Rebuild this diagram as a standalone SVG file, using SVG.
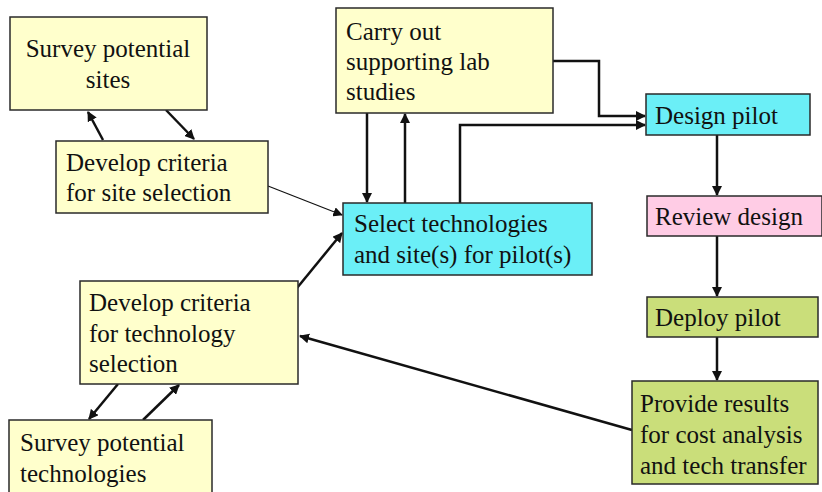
<svg xmlns="http://www.w3.org/2000/svg" width="822" height="492" viewBox="0 0 822 492">
<style>
.b{stroke:#2a2a2a;stroke-width:1.5}
.y{fill:#FFFFCC}
.c{fill:#6BEFF7}
.p{fill:#FFCCE5}
.g{fill:#CADE7A}
.l{fill:none;stroke:#111;stroke-width:2.5}
.t{fill:none;stroke:#111;stroke-width:1.2}
</style>
<defs>
<marker id="a" viewBox="0 0 10 10" refX="9" refY="5" markerWidth="4" markerHeight="4" orient="auto" markerUnits="strokeWidth"><path d="M0,0 L10,5 L0,10 z" fill="#111"/></marker>
<marker id="at" viewBox="0 0 10 10" refX="9" refY="5" markerWidth="8" markerHeight="8" orient="auto" markerUnits="strokeWidth"><path d="M0,0 L10,5 L0,10 z" fill="#111"/></marker>
</defs>
<rect width="822" height="492" fill="#fff"/>
<g id="connectors">
<line class="l" x1="103" y1="140" x2="88" y2="112" marker-end="url(#a)"/>
<line class="l" x1="166" y1="110" x2="194" y2="139" marker-end="url(#a)"/>
<line class="t" x1="268" y1="186" x2="342" y2="215" marker-end="url(#at)"/>
<line class="l" x1="367" y1="113" x2="367" y2="202" marker-end="url(#a)"/>
<line class="l" x1="405" y1="203" x2="405" y2="114" marker-end="url(#a)"/>
<polyline class="l" points="460,203 460,125 645,125" marker-end="url(#a)"/>
<polyline class="l" points="553,61 599,61 599,116 645,116" marker-end="url(#a)"/>
<line class="l" x1="717" y1="135" x2="717" y2="195" marker-end="url(#a)"/>
<line class="l" x1="717" y1="236" x2="717" y2="296" marker-end="url(#a)"/>
<line class="l" x1="717" y1="337" x2="717" y2="380" marker-end="url(#a)"/>
<line class="l" x1="632" y1="430" x2="300" y2="336" marker-end="url(#a)"/>
<line class="l" x1="297" y1="288" x2="342" y2="233" marker-end="url(#a)"/>
<line class="l" x1="118" y1="384" x2="89" y2="419" marker-end="url(#a)"/>
<line class="l" x1="143" y1="420" x2="179" y2="385" marker-end="url(#a)"/>
</g>
<g id="survey-sites">
<rect class="b y" x="10" y="17" width="197" height="93"/>
<text x="108" y="57" text-anchor="middle" font-family="Liberation Serif" font-size="25" fill="#111">Survey potential</text>
<text x="108" y="88" text-anchor="middle" font-family="Liberation Serif" font-size="25" fill="#111">sites</text>
</g>
<g id="criteria-site">
<rect class="b y" x="56" y="141" width="212" height="72"/>
<text x="66" y="171" font-family="Liberation Serif" font-size="25" fill="#111">Develop criteria</text>
<text x="66" y="201" font-family="Liberation Serif" font-size="25" fill="#111">for site selection</text>
</g>
<g id="lab-studies">
<rect class="b y" x="336" y="8" width="217" height="105"/>
<text x="346" y="40" font-family="Liberation Serif" font-size="25" fill="#111">Carry out</text>
<text x="346" y="70" font-family="Liberation Serif" font-size="25" fill="#111">supporting lab</text>
<text x="346" y="100" font-family="Liberation Serif" font-size="25" fill="#111">studies</text>
</g>
<g id="select">
<rect class="b c" x="343" y="203" width="249" height="72"/>
<text x="354" y="232" font-family="Liberation Serif" font-size="25" fill="#111">Select technologies</text>
<text x="354" y="263" font-family="Liberation Serif" font-size="25" fill="#111">and site(s) for pilot(s)</text>
</g>
<g id="design-pilot">
<rect class="b c" x="646" y="94" width="164" height="41"/>
<text x="655" y="124" font-family="Liberation Serif" font-size="25" fill="#111">Design pilot</text>
</g>
<g id="review-design">
<rect class="b p" x="647" y="196" width="175" height="40"/>
<text x="655" y="225" font-family="Liberation Serif" font-size="25" fill="#111">Review design</text>
</g>
<g id="deploy-pilot">
<rect class="b g" x="647" y="297" width="171" height="40"/>
<text x="655" y="326" font-family="Liberation Serif" font-size="25" fill="#111">Deploy pilot</text>
</g>
<g id="provide-results">
<rect class="b g" x="632" y="381" width="186" height="103"/>
<text x="640" y="412" font-family="Liberation Serif" font-size="25" fill="#111">Provide results</text>
<text x="640" y="443" font-family="Liberation Serif" font-size="25" fill="#111">for cost analysis</text>
<text x="640" y="474" font-family="Liberation Serif" font-size="25" fill="#111">and tech transfer</text>
</g>
<g id="criteria-tech">
<rect class="b y" x="80" y="281" width="218" height="103"/>
<text x="89" y="311" font-family="Liberation Serif" font-size="25" fill="#111">Develop criteria</text>
<text x="89" y="342" font-family="Liberation Serif" font-size="25" fill="#111">for technology</text>
<text x="89" y="372" font-family="Liberation Serif" font-size="25" fill="#111">selection</text>
</g>
<g id="survey-tech">
<rect class="b y" x="9" y="420" width="203" height="80"/>
<text x="20" y="451" font-family="Liberation Serif" font-size="25" fill="#111">Survey potential</text>
<text x="20" y="482" font-family="Liberation Serif" font-size="25" fill="#111">technologies</text>
</g>
</svg>
